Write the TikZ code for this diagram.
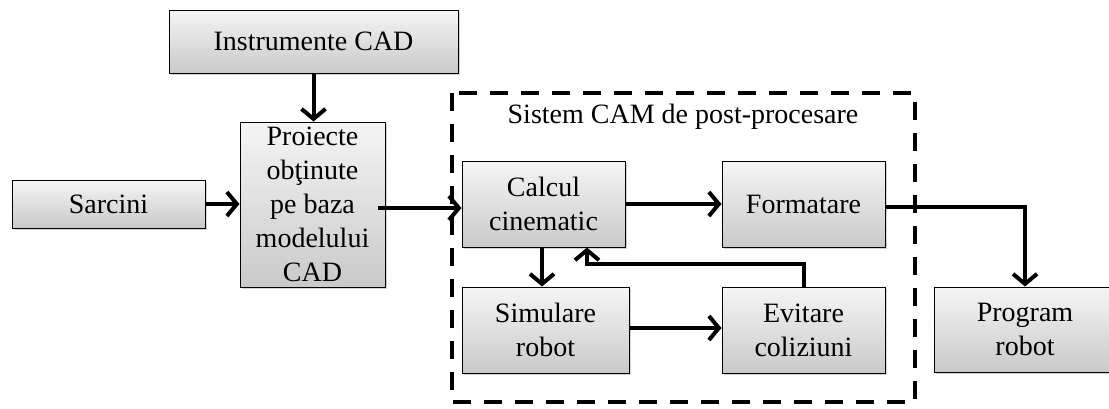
\documentclass[tikz,border=0pt]{standalone}
\usepackage{fontspec}
\setmainfont{Liberation Serif}
\usetikzlibrary{arrows.meta,shadows,calc}
\tikzset{
  block/.style={draw=black, line width=1pt, rectangle, inner sep=0pt,
    top color=gray!8, bottom color=gray!42, align=center,
    drop shadow={shadow xshift=1.5pt, shadow yshift=-1.5pt, opacity=0.35, fill=gray},
    font=\fontsize{28}{34}\selectfont},
  flow/.style={line width=4pt, -{Straight Barb[length=10pt,width=24pt,line width=4pt]}},
  frame/.style={line width=4pt, dash pattern=on 18pt off 13pt},
}
\begin{document}
\begin{tikzpicture}[x=1pt,y=-1pt]
\useasboundingbox (0,0) rectangle (1109,408);
% post-processing frame
\draw[frame] (452,93) rectangle (915,402);
\node[font=\fontsize{28}{34}\selectfont] (title) at (683,117) {Sistem CAM de post-procesare};
% blocks
\node[block, minimum width=289pt, minimum height=63pt] (inst) at (313.5,41.5) {Instrumente CAD};
\node[block, minimum width=145pt, minimum height=165pt] (proi) at (312.5,204.5) {Proiecte\\ obţinute\\ pe baza\\ modelului\\ CAD};
\node[block, minimum width=193pt, minimum height=48pt] (sarc) at (108.5,204) {Sarcini};
\node[block, minimum width=163pt, minimum height=86pt] (calc) at (543.5,204) {Calcul\\ cinematic};
\node[block, minimum width=163pt, minimum height=86pt] (form) at (803.5,204) {Formatare};
\node[block, minimum width=167pt, minimum height=86pt] (sim) at (545.5,330) {Simulare\\ robot};
\node[block, minimum width=163pt, minimum height=86pt] (evit) at (803.5,330) {Evitare\\ coliziuni};
\node[block, minimum width=182pt, minimum height=85pt] (prog) at (1025,329.5) {Program\\ robot};
% connectors
\coordinate (fb) at (587,264);
\coordinate (out) at (1025,207);
\draw[flow] (inst.south) -- (inst.south |- proi.north);
\draw[flow] (sarc.east) -- (sarc.east -| proi.west);
\draw[flow] ($(proi.east |- calc.west)+(-8,4)$) -- ($(calc.west)+(0,4)$);
\draw[flow] (calc.east) -- (form.west);
\draw[flow] ($(calc.south)+(-1.5,0)$) -- ($(calc.south |- sim.north)+(-1.5,0)$);
\draw[flow] (sim.east |- 0,328) -- (evit.west |- 0,328);
\draw[flow] (evit.north) |- (fb) -- (fb |- calc.south);
\draw[flow] (form.east |- out) -- (out) -- (prog.north);
\end{tikzpicture}
\end{document}
